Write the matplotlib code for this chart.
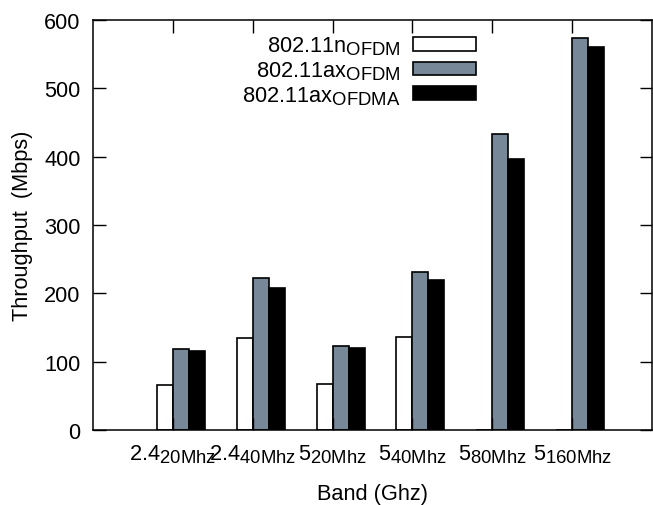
import matplotlib
matplotlib.use("Agg")
import matplotlib.pyplot as plt
import matplotlib._mathtext as mathtext_impl
import numpy as np

plt.rcParams['font.family'] = ['Liberation Sans', 'DejaVu Sans']
plt.rcParams['mathtext.fontset'] = 'custom'
plt.rcParams['mathtext.rm'] = 'Liberation Sans'
# larger, lower subscripts, closer to the enhanced-text look
mathtext_impl.SHRINK_FACTOR = 0.85
mathtext_impl.FontConstantsBase.subdrop = 0.65

bands = [r"$\mathregular{2.4_{20Mhz}}$", r"$\mathregular{2.4_{40Mhz}}$",
         r"$\mathregular{5_{20Mhz}}$", r"$\mathregular{5_{40Mhz}}$",
         r"$\mathregular{5_{80Mhz}}$", r"$\mathregular{5_{160Mhz}}$"]
n_ofdm = [66, 134, 67, 136, 0, 0]
ax_ofdm = [119, 222, 123, 231, 433, 573]
ax_ofdma = [116, 208, 120, 220, 397, 560]
series_labels = [r"$\mathregular{802.11n_{OFDM}}$",
                 r"$\mathregular{802.11ax_{OFDM}}$",
                 r"$\mathregular{802.11ax_{OFDMA}}$"]
colors = ["white", "#778899", "black"]

fs = 15.7
fig = plt.figure(figsize=(6.53, 5.06), dpi=100)
ax = fig.add_axes([93 / 653, 1 - 431 / 506, (652 - 93) / 653, (431 - 21) / 506])

x = np.arange(len(bands))
w = 0.2
offsets = [-0.5 * w, 0.5 * w, 1.5 * w]
for vals, off, col, lab in zip([n_ofdm, ax_ofdm, ax_ofdma], offsets, colors, series_labels):
    ax.bar(x + off, vals, width=w, color=col, edgecolor="black", linewidth=1.2, label=lab)

ax.set_xlim(-1, 6)
ax.set_ylim(0, 600)
ax.set_xticks(x)
ax.set_xticklabels(bands)
ax.set_yticks(np.arange(0, 601, 100))
ax.tick_params(axis='both', direction='in', length=9, width=1.0, labelsize=fs,
               top=True, right=True)
ax.tick_params(axis='x', pad=9)
ax.tick_params(axis='y', pad=9)
for s in ax.spines.values():
    s.set_linewidth(1.1)

ax.set_ylabel("Throughput  (Mbps)", fontsize=fs, labelpad=8)
ax.set_xlabel("Band (Ghz)", fontsize=fs, labelpad=13)

leg = ax.legend(loc='upper right', bbox_to_anchor=(0.685, 0.965), frameon=False,
                markerfirst=False, fontsize=fs, handlelength=2.9, handleheight=0.6,
                labelspacing=0.1, handletextpad=0.55, borderaxespad=0, borderpad=0)

fig.savefig("out.png", dpi=100)
